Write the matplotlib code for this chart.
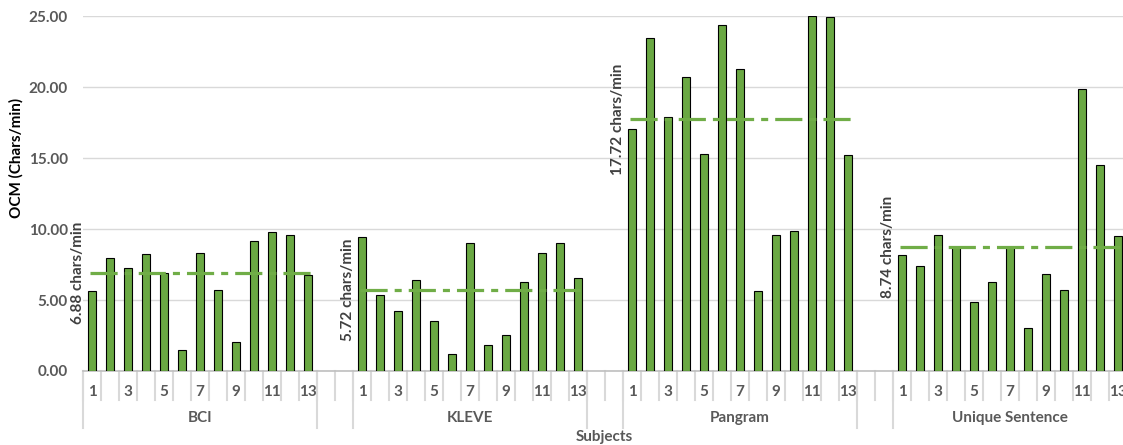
import numpy as np
import matplotlib.pyplot as plt
from matplotlib.transforms import blended_transform_factory

# values per subject for each condition
groups = ['BCI', 'KLEVE', 'Pangram', 'Unique Sentence']
bci = [5.61, 7.93, 7.23, 8.24, 6.88, 1.46, 8.29, 5.73, 2.07, 9.13, 9.77, 9.60, 6.74]
kleve = [9.41, 5.33, 4.25, 6.43, 3.50, 1.20, 8.99, 1.85, 2.56, 6.27, 8.33, 8.99, 6.55]
pangram = [17.07, 23.43, 17.89, 20.70, 15.28, 24.34, 21.24, 5.61, 9.55, 9.84, 25.00, 24.93, 15.19]
unique = [8.17, 7.39, 9.55, 8.76, 4.88, 6.24, 8.71, 3.05, 6.81, 5.68, 19.84, 14.48, 9.48]
means = [6.88, 5.72, 17.72, 8.74]
subjects = [str(i) for i in range(1, 14)]

plt.rcParams['font.family'] = ['Lato', 'DejaVu Sans']

series = [bci, kleve, pangram, unique]
n = len(subjects)
slot = n + 2  # two empty categories between groups

fig = plt.figure(figsize=(11.23, 4.45), dpi=100)
ax = fig.add_axes([83 / 1123, 74 / 445, 1 - 83 / 1123, 355 / 445])

bar_color = '#6AA843'
line_color = '#70AD47'
txt_gray = '#595959'
sep_gray = '#D9D9D9'

tick_pos = []
tick_lab = []
for g, (name, vals, m) in enumerate(zip(groups, series, means)):
    x = np.arange(n) + g * slot
    ax.bar(x, vals, width=0.45, color=bar_color, edgecolor='black', linewidth=0.8, zorder=3)
    # mean line
    ax.plot([x[0] - 0.1, x[-1] + 0.3], [m, m], color=line_color, linewidth=2.3,
            dashes=(8.5, 2.2, 2.2, 2.2), zorder=4, solid_capstyle='butt')
    ax.text(x[0] - 0.8, m, f'{m:.2f} chars/min', rotation=90, ha='center', va='center',
            fontsize=11, fontweight='bold', color='#404040', zorder=5)
    for i, s in enumerate(subjects):
        if i % 2 == 0:
            tick_pos.append(x[i])
            tick_lab.append(s)

ax.set_ylim(0, 25)
ax.set_xlim(-0.5, (1123 - 83) / 18 - 0.5)
ax.set_yticks([0, 5, 10, 15, 20, 25])
ax.set_yticklabels([f'{v:.2f}' for v in [0, 5, 10, 15, 20, 25]])
ax.yaxis.grid(True, color=sep_gray, linewidth=1)
ax.set_axisbelow(True)
for sp in ['top', 'right', 'left']:
    ax.spines[sp].set_visible(False)
ax.spines['bottom'].set_color('#BFBFBF')
ax.spines['bottom'].set_linewidth(1.2)
ax.tick_params(axis='y', length=0, pad=11, labelsize=11, labelcolor=txt_gray)
for lab in ax.get_yticklabels():
    lab.set_fontweight('bold')

ax.set_xticks(tick_pos)
ax.set_xticklabels(tick_lab, fontsize=11, fontweight='bold', color=txt_gray)
ax.tick_params(axis='x', length=0, pad=10)

# multi-level category axis
trans = blended_transform_factory(ax.transData, ax.transAxes)
total = len(groups) * slot
for k in range(total + 1):
    xb = k - 0.5
    ax.plot([xb, xb], [0, -0.082], transform=trans, color=sep_gray, linewidth=1.5, clip_on=False)
for g, name in enumerate(groups):
    x0 = g * slot - 0.5
    x1 = x0 + n
    for xb in (x0, x1):
        ax.plot([xb, xb], [0, -0.16], transform=trans, color=sep_gray, linewidth=1.5, clip_on=False)
    ax.text((x0 + x1) / 2, -0.133, name, transform=trans, ha='center', va='center',
            fontsize=11, fontweight='bold', color=txt_gray)

ax.set_ylabel('OCM (Chars/min)', fontsize=11, fontweight='bold', color='black')
ax.yaxis.set_label_coords(-59 / 1040, 0.6)
fig.text(0.538, 0.018, 'Subjects', ha='center', va='center', fontsize=11, fontweight='bold', color=txt_gray)

plt.savefig('out.png', dpi=100)
